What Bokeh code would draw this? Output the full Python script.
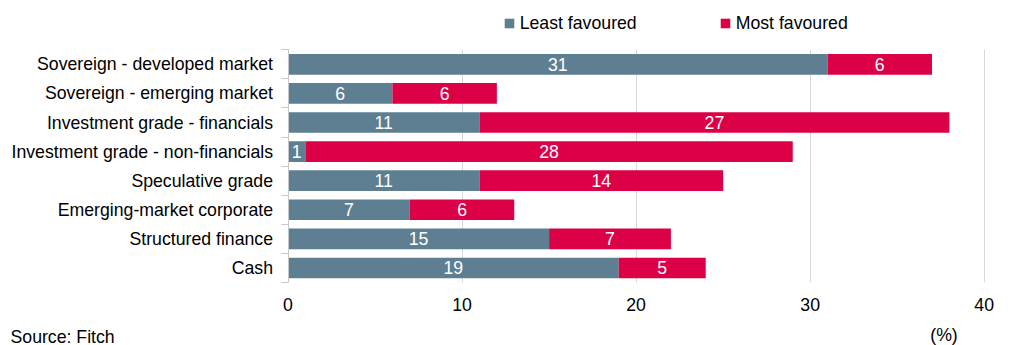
from bokeh.plotting import figure
from bokeh.models import Range1d, FixedTicker, Legend, LegendItem, Label, ColumnDataSource
from bokeh.embed import file_html
from bokeh.resources import INLINE
from bokeh.core.properties import value

# ---- data ----
categories = [
    "Sovereign - developed market",
    "Sovereign - emerging market",
    "Investment grade - financials",
    "Investment grade - non-financials",
    "Speculative grade",
    "Emerging-market corporate",
    "Structured finance",
    "Cash",
]
least_favoured = [31, 6, 11, 1, 11, 7, 15, 19]
most_favoured = [6, 6, 27, 28, 14, 6, 7, 5]
series_names = ["Least favoured", "Most favoured"]
x_ticks = [0, 10, 20, 30, 40]
unit_label = "(%)"
source_note = "Source: Fitch"

# ---- style / layout ----
BLUE = "#5E7F92"
RED = "#DC0046"
GRID = "#D9D9D9"
AXIS = "#C8C8C8"
FONT = "Liberation Sans"
FS = "17.7px"
W, H = 1011, 345
X0_PX, XMAX_PX = 287.5, 983.7      # pixel of x=0 and x=40
TOP_PX, BOT_PX = 49.3, 282.0       # pixel of category band top / bottom

n = len(categories)
xmax = x_ticks[-1]
sx = (XMAX_PX - X0_PX) / xmax
sy = (BOT_PX - TOP_PX) / n
x_range = Range1d(-X0_PX / sx, xmax + (W - XMAX_PX) / sx)
y_range = Range1d(-(H - BOT_PX) / sy, n + TOP_PX / sy)

ypos = [n - i - 0.5 for i in range(n)]
totals = [a + b for a, b in zip(least_favoured, most_favoured)]
src = ColumnDataSource(dict(
    y=ypos,
    least=least_favoured,
    total=totals,
    lmid=[a / 2 for a in least_favoured],
    mmid=[a + b / 2 for a, b in zip(least_favoured, most_favoured)],
    llab=[str(v) for v in least_favoured],
    mlab=[str(v) for v in most_favoured],
))

p = figure(width=W, height=H, output_backend="svg", toolbar_location=None,
           x_range=x_range, y_range=y_range, min_border=0)
p.outline_line_color = None
p.background_fill_color = "white"
p.border_fill_color = "white"

r1 = p.hbar(y="y", left=0, right="least", height=0.71, fill_color=BLUE, line_color=None, source=src)
r2 = p.hbar(y="y", left="least", right="total", height=0.71, fill_color=RED, line_color=None, source=src)

for xcol, tcol in (("lmid", "llab"), ("mmid", "mlab")):
    p.text(x=xcol, y="y", text=tcol, source=src, text_color="white",
           text_font=value(FONT), text_font_size=FS,
           text_align="center", text_baseline="middle")

# grid
p.ygrid.grid_line_color = None
xg = p.xgrid[0]
xg.ticker = FixedTicker(ticks=x_ticks)
xg.grid_line_color = GRID
if "cross_bounds" in xg.properties():
    xg.cross_bounds = (0, n)
else:
    xg.grid_line_color = None
    p.segment(x0=x_ticks[1:], x1=x_ticks[1:], y0=0, y1=n, line_color=GRID)

# x axis
xa = p.xaxis[0]
xa.fixed_location = 0
xa.bounds = (0, xmax)
xa.ticker = FixedTicker(ticks=x_ticks)
xa.axis_line_color = None
xa.major_tick_line_color = None
xa.minor_tick_line_color = None
xa.major_tick_out = 0
xa.major_tick_in = 0
xa.major_label_text_font = FONT
xa.major_label_text_font_size = FS
xa.major_label_text_color = "black"
xa.major_label_standoff = 15

# y axis
ya = p.yaxis[0]
ya.fixed_location = 0
ya.bounds = (0, n)
ya.ticker = FixedTicker(ticks=ypos, minor_ticks=list(range(n + 1)))
ya.major_label_overrides = {y: c for y, c in zip(ypos, categories)}
ya.major_tick_line_color = None
ya.major_tick_out = 0
ya.major_tick_in = 0
ya.minor_tick_in = 0
ya.minor_tick_out = 7
ya.minor_tick_line_color = AXIS
ya.axis_line_color = AXIS
ya.major_label_text_font = FONT
ya.major_label_text_font_size = FS
ya.major_label_text_color = "black"
ya.major_label_standoff = 8

# legends (screen units relative to the bottom-left of the canvas)
for r, name, x in ((r1, series_names[0], 502.7), (r2, series_names[1], 718.7)):
    leg = Legend(items=[LegendItem(label=name, renderers=[r])], location=(x, H - 33.5),
                 padding=0, margin=0, spacing=0, border_line_color=None,
                 background_fill_alpha=0, glyph_width=12, glyph_height=12,
                 label_standoff=5, label_height=20,
                 label_text_font=FONT, label_text_font_size=FS, label_text_color="black")
    p.add_layout(leg)

p.add_layout(Label(x=943.5, y=H - 324.5, x_units="screen", y_units="screen", text=unit_label,
                   text_font=FONT, text_font_size=FS, text_align="center",
                   text_baseline="top", text_color="black"))
p.add_layout(Label(x=10, y=H - 326, x_units="screen", y_units="screen", text=source_note,
                   text_font=FONT, text_font_size=FS, text_align="left",
                   text_baseline="top", text_color="black"))

open("out.html", "w").write(file_html(p, INLINE))
